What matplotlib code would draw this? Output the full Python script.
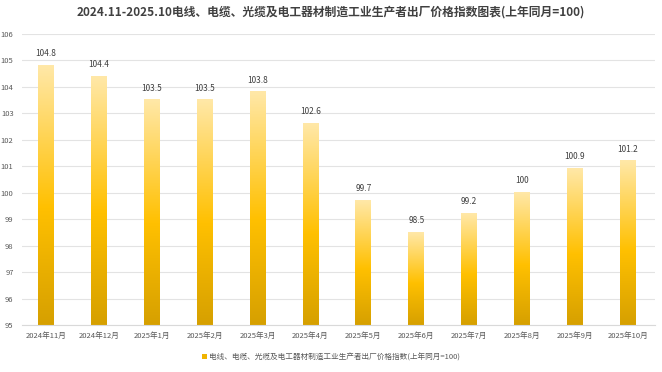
import numpy as np
import matplotlib.pyplot as plt
from matplotlib.colors import LinearSegmentedColormap
from matplotlib.patches import Patch

plt.rcParams['font.family'] = ['Noto Sans CJK SC', 'DejaVu Sans']

months = ['2024年11月', '2024年12月', '2025年1月', '2025年2月', '2025年3月', '2025年4月',
          '2025年5月', '2025年6月', '2025年7月', '2025年8月', '2025年9月', '2025年10月']
values = [104.8, 104.4, 103.5, 103.5, 103.8, 102.6, 99.7, 98.5, 99.2, 100, 100.9, 101.2]
value_labels = ['104.8', '104.4', '103.5', '103.5', '103.8', '102.6',
                '99.7', '98.5', '99.2', '100', '100.9', '101.2']
series_name = '电线、电缆、光缆及电工器材制造工业生产者出厂价格指数(上年同月=100)'
title = '2024.11-2025.10电线、电缆、光缆及电工器材制造工业生产者出厂价格指数图表(上年同月=100)'

ymin, ymax = 95, 106
bar_w = 0.3

fig = plt.figure(figsize=(6.62, 3.72), dpi=100)
ax = fig.add_axes([0.033, 0.126, 0.956, 0.783])

# vertical gradient: light top -> gold middle -> darker bottom
cmap = LinearSegmentedColormap.from_list(
    'gold', [(0.0, '#D6A000'), (0.45, '#FFC000'), (1.0, '#FFE8A8')])
grad = np.linspace(0, 1, 256).reshape(-1, 1)

x = np.arange(len(months))
for xi, v, lab in zip(x, values, value_labels):
    ax.imshow(grad, cmap=cmap, origin='lower', aspect='auto',
              extent=(xi - bar_w / 2, xi + bar_w / 2, ymin, v), zorder=2)
    ax.text(xi, v + 0.28, lab, ha='center', va='bottom', fontsize=6, color='#404040')

ax.set_xlim(-0.46, 11.51)
ax.set_ylim(ymin, ymax)
ax.set_yticks(range(95, 107))
ax.set_xticks(x)
ax.set_xticklabels(months)
ax.grid(axis='y', color='#E3E3E3', linewidth=0.8, zorder=0)
ax.set_axisbelow(True)
for s in ['top', 'right', 'left']:
    ax.spines[s].set_visible(False)
ax.spines['bottom'].set_color('#D9D9D9')
ax.tick_params(axis='both', length=0, labelsize=5.5, labelcolor='#595959')
ax.tick_params(axis='x', pad=5)
ax.tick_params(axis='y', pad=6)

fig.suptitle(title, x=0.5, y=0.985, fontsize=8.5, fontweight='bold', color='#404040')

handle = Patch(facecolor='#F0B400', edgecolor='none')
fig.legend([handle], [series_name], loc='center', bbox_to_anchor=(0.5, 0.04),
           frameon=False, fontsize=5.5, labelcolor='#595959',
           handlelength=0.6, handleheight=0.6, handletextpad=0.3)

fig.savefig('out.png', dpi=100)
